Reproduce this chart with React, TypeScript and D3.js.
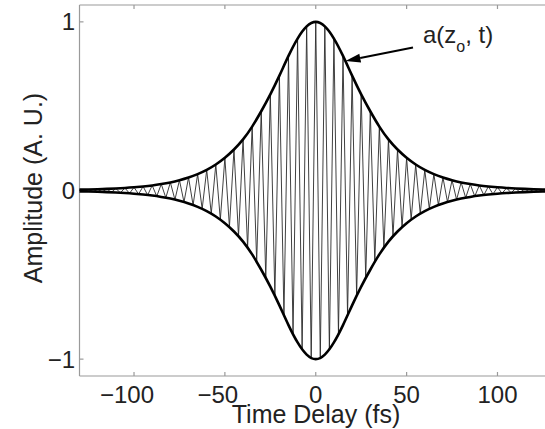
import React from "react";
import * as d3 from "d3";

// ---- data ----
// envelope a(z_o, t)
const envTimes = [
  -130, -125, -120, -115, -110, -105, -100, -95, -90, -85, -80, -75, -70, -65, -60, -55, -50, -45,
  -40, -35, -30, -25, -20, -15, -10, -5, 0, 5, 10, 15, 20, 25, 30, 35, 40, 45, 50, 55, 60, 65, 70,
  75, 80, 85, 90, 95, 100, 105, 110, 115, 120, 125, 130,
];
const envelope = [
  0.005, 0.006, 0.0075, 0.0095, 0.012, 0.015, 0.019, 0.024, 0.03, 0.038, 0.048, 0.061, 0.077, 0.097,
  0.122, 0.154, 0.194, 0.243, 0.303, 0.379, 0.47, 0.57, 0.681, 0.798, 0.901, 0.973, 1.0, 0.973,
  0.901, 0.798, 0.681, 0.57, 0.47, 0.379, 0.303, 0.243, 0.194, 0.154, 0.122, 0.097, 0.077, 0.061,
  0.048, 0.038, 0.03, 0.024, 0.019, 0.015, 0.012, 0.0095, 0.0075, 0.006, 0.005,
];
// oscillating field: one extremum per half cycle
const fieldTimes = [
  -130, -127.5, -125, -122.5, -120, -117.5, -115, -112.5, -110, -107.5, -105, -102.5, -100, -97.5,
  -95, -92.5, -90, -87.5, -85, -82.5, -80, -77.5, -75, -72.5, -70, -67.5, -65, -62.5, -60, -57.5,
  -55, -52.5, -50, -47.5, -45, -42.5, -40, -37.5, -35, -32.5, -30, -27.5, -25, -22.5, -20, -17.5,
  -15, -12.5, -10, -7.5, -5, -2.5, 0, 2.5, 5, 7.5, 10, 12.5, 15, 17.5, 20, 22.5, 25, 27.5, 30, 32.5,
  35, 37.5, 40, 42.5, 45, 47.5, 50, 52.5, 55, 57.5, 60, 62.5, 65, 67.5, 70, 72.5, 75, 77.5, 80, 82.5,
  85, 87.5, 90, 92.5, 95, 97.5, 100, 102.5, 105, 107.5, 110, 112.5, 115, 117.5, 120, 122.5, 125,
  127.5, 130,
];
const field = [
  0.005, -0.0053, 0.006, -0.0067, 0.0075, -0.0085, 0.0095, -0.0107, 0.012, -0.0135, 0.015, -0.017,
  0.019, -0.0215, 0.024, -0.0271, 0.03, -0.0342, 0.038, -0.0431, 0.048, -0.0544, 0.061, -0.0686,
  0.077, -0.0864, 0.097, -0.109, 0.122, -0.137, 0.154, -0.173, 0.194, -0.217, 0.243, -0.272, 0.303,
  -0.339, 0.379, -0.421, 0.47, -0.517, 0.57, -0.626, 0.681, -0.741, 0.798, -0.852, 0.901, -0.942,
  0.973, -0.993, 1.0, -0.993, 0.973, -0.942, 0.901, -0.852, 0.798, -0.741, 0.681, -0.626, 0.57,
  -0.517, 0.47, -0.421, 0.379, -0.339, 0.303, -0.272, 0.243, -0.217, 0.194, -0.173, 0.154, -0.137,
  0.122, -0.109, 0.097, -0.0864, 0.077, -0.0686, 0.061, -0.0544, 0.048, -0.0431, 0.038, -0.0342,
  0.03, -0.0271, 0.024, -0.0215, 0.019, -0.017, 0.015, -0.0135, 0.012, -0.0107, 0.0095, -0.0085,
  0.0075, -0.0067, 0.006, -0.0053, 0.005,
];
const xTicks = [-100, -50, 0, 50, 100];
const yTicks = [-1, 0, 1];
const xDomain = [-130, 130];
const yDomain = [-1.1, 1.1];

const W = 545;
const H = 429;
const FONT = "'Liberation Sans', Arial, Helvetica, sans-serif";

export default function App() {
  const x = d3.scaleLinear().domain(xDomain).range([79.5, 552]);
  const y = d3.scaleLinear().domain(yDomain).range([376, 5]);

  const upper = envTimes.map((t, i) => [t, envelope[i]] as [number, number]);
  const lower = envTimes.map((t, i) => [t, -envelope[i]] as [number, number]);
  const envLine = d3
    .line<[number, number]>()
    .x((d) => x(d[0]))
    .y((d) => y(d[1]))
    .curve(d3.curveNatural);
  const fieldLine = d3
    .line<[number, number]>()
    .x((d) => x(d[0]))
    .y((d) => y(d[1]));
  const fieldPts = fieldTimes.map((t, i) => [t, field[i]] as [number, number]);

  const axisColor = "#9a9a9a";
  const tickLen = 4;
  const fs = 24;
  const digitW = 0.556 * fs;
  const textColor = "#222";

  // arrow geometry
  const ax0 = 413, ay0 = 47.5, ax1 = 345.5, ay1 = 61;
  const ang = Math.atan2(ay1 - ay0, ax1 - ax0);
  const hl = 15, hw = 4.5;
  const bx = ax1 - hl * Math.cos(ang), by = ay1 - hl * Math.sin(ang);
  const head = [
    [ax1, ay1],
    [bx + hw * Math.sin(ang), by - hw * Math.cos(ang)],
    [bx - hw * Math.sin(ang), by + hw * Math.cos(ang)],
  ]
    .map((p) => p.join(","))
    .join(" ");

  return (
    <svg
      width={W}
      height={H}
      style={{ position: "absolute", left: 0, top: 0, background: "#fff" }}
      fontFamily={FONT}
    >
      <rect x={0} y={0} width={W} height={H} fill="#fff" />
      {/* axes box */}
      <line x1={x(xDomain[0])} x2={x(xDomain[0])} y1={y(yDomain[0])} y2={y(yDomain[1])} stroke={axisColor} strokeWidth={1.2} />
      <line x1={x(xDomain[0])} x2={x(xDomain[1])} y1={y(yDomain[0])} y2={y(yDomain[0])} stroke={axisColor} strokeWidth={1.2} />
      <line x1={x(xDomain[0])} x2={x(xDomain[1])} y1={y(yDomain[1])} y2={y(yDomain[1])} stroke={axisColor} strokeWidth={1.2} />
      <line x1={x(xDomain[1])} x2={x(xDomain[1])} y1={y(yDomain[0])} y2={y(yDomain[1])} stroke={axisColor} strokeWidth={1.2} />
      {xTicks.map((t) => (
        <g key={"xt" + t}>
          <line x1={x(t)} x2={x(t)} y1={y(yDomain[0])} y2={y(yDomain[0]) - tickLen} stroke={axisColor} strokeWidth={1.2} />
          <line x1={x(t)} x2={x(t)} y1={y(yDomain[1])} y2={y(yDomain[1]) + tickLen} stroke={axisColor} strokeWidth={1.2} />
          <text
            x={x(t) + (String(Math.abs(t)).length * digitW) / 2}
            y={403}
            textAnchor="end"
            fontSize={fs}
            fill={textColor}
          >
            {t < 0 ? "\u2212" + Math.abs(t) : String(t)}
          </text>
        </g>
      ))}
      {yTicks.map((t) => (
        <g key={"yt" + t}>
          <line x1={x(xDomain[0])} x2={x(xDomain[0]) + tickLen} y1={y(t)} y2={y(t)} stroke={axisColor} strokeWidth={1.2} />
          <text x={75} y={y(t) + 0.716 * fs * 0.5} textAnchor="end" fontSize={fs} fill={textColor}>
            {t < 0 ? "\u2212" + Math.abs(t) : String(t)}
          </text>
        </g>
      ))}
      {/* oscillating field */}
      <path d={fieldLine(fieldPts) || ""} fill="none" stroke="#2a2a2a" strokeWidth={0.9} />
      {/* envelope */}
      <path d={envLine(upper) || ""} fill="none" stroke="#000" strokeWidth={2.6} />
      <path d={envLine(lower) || ""} fill="none" stroke="#000" strokeWidth={2.6} />
      {/* annotation */}
      <line x1={ax0} y1={ay0} x2={bx} y2={by} stroke="#000" strokeWidth={2} />
      <polygon points={head} fill="#000" />
      <text x={423} y={43} fontSize={24} fill={textColor}>
        a(z
        <tspan fontSize={16} dy={9}>o</tspan>
        <tspan dy={-9}>, t)</tspan>
      </text>
      {/* axis titles */}
      <text x={316} y={423} textAnchor="middle" fontSize={25} fill={textColor}>
        Time Delay (fs)
      </text>
      <text transform="translate(42,188) rotate(-90)" textAnchor="middle" fontSize={25} fill={textColor}>
        Amplitude (A. U.)
      </text>
    </svg>
  );
}
